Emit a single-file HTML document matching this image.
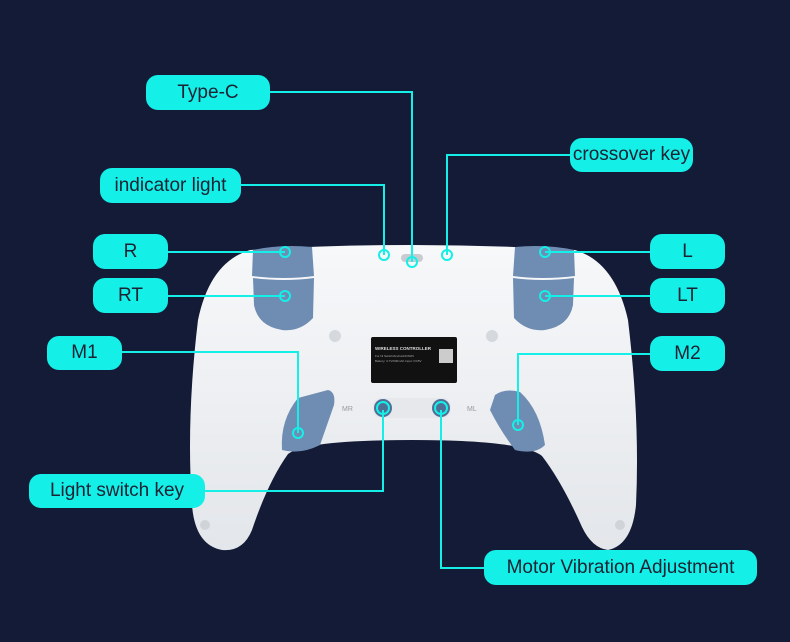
<!DOCTYPE html>
<html><head><meta charset="utf-8"><style>
html,body{margin:0;padding:0;background:#131b36;}
body{width:790px;height:642px;position:relative;overflow:hidden;font-family:"Liberation Sans",sans-serif;}
.l{position:absolute;background:#14efe8;border-radius:12px;color:#1b2233;font-size:19px;display:flex;align-items:center;justify-content:center;white-space:nowrap;}
svg{position:absolute;left:0;top:0;}
</style></head><body>
<svg width="790" height="642" viewBox="0 0 790 642">
<defs>
<linearGradient id="b" x1="0" y1="0" x2="0" y2="1"><stop offset="0" stop-color="#f7f8fa"/><stop offset="1" stop-color="#e3e6ea"/></linearGradient>
</defs>
<path d="M250 250 Q412 240 575 250 Q615 262 628 320 Q640 420 636 505 Q632 545 608 550 Q592 548 582 527 Q562 482 542 456 Q522 440 412 440 Q305 440 288 454 Q268 482 252 530 Q243 552 222 550 Q195 545 192 505 Q186 420 198 320 Q210 262 250 250 Z" fill="url(#b)"/>
<circle cx="335" cy="336" r="6" fill="#d5d8dc"/><circle cx="492" cy="336" r="6" fill="#d5d8dc"/>
<!-- shoulder buttons -->
<path d="M253 250 Q280 244 312 247 L314 276 Q285 280 252 276 Z" fill="#6f8db2"/>
<path d="M253 278 Q285 282 314 278 L313 318 Q300 332 282 330 Q258 326 254 305 Z" fill="#6f8db2"/>
<path d="M574 250 Q547 244 515 247 L513 276 Q542 280 575 276 Z" fill="#6f8db2"/>
<path d="M574 278 Q542 282 513 278 L514 318 Q527 332 545 330 Q569 326 573 305 Z" fill="#6f8db2"/>
<!-- back paddles -->
<path d="M298 398 L328 390 Q336 392 334 405 L320 445 Q300 455 282 450 Q280 420 298 398 Z" fill="#6f8db2"/>
<path d="M495 395 Q505 388 520 392 Q540 410 545 445 Q535 455 515 450 Q500 430 490 410 Z" fill="#6f8db2"/>
<!-- sticker -->
<rect x="371" y="337" width="86" height="46" rx="2" fill="#111"/>
<text x="375" y="350" font-size="4.5" fill="#ddd" font-family="Liberation Sans" font-weight="bold">WIRELESS CONTROLLER</text>
<text x="375" y="357" font-size="3" fill="#aaa">For Ni Switch/Android/iOS/Pc</text>
<text x="375" y="362" font-size="3" fill="#aaa">Battery: 3.7V/600mAh Input: DC5V</text>
<rect x="439" y="349" width="14" height="14" fill="#ccc"/>
<!-- small buttons -->
<rect x="373" y="398" width="78" height="20" rx="8" fill="#e6e8eb"/>
<circle cx="383" cy="408" r="9" fill="#4f6f95"/><circle cx="441" cy="408" r="9" fill="#4f6f95"/>
<rect x="401" y="254" width="22" height="8" rx="4" fill="#c8ccd1"/>
<text x="342" y="411" font-size="7" fill="#999">MR</text><text x="467" y="411" font-size="7" fill="#999">ML</text>
<circle cx="205" cy="525" r="5" fill="#d0d3d7"/><circle cx="620" cy="525" r="5" fill="#d0d3d7"/>
<g stroke="#14efe8" stroke-width="2" fill="none">
<polyline points="270,92 412,92 412,262"/>
<polyline points="241,185 384,185 384,255"/>
<polyline points="570,155 447,155 447,255"/>
<polyline points="168,252 285,252"/>
<polyline points="168,296 285,296"/>
<polyline points="650,252 545,252"/>
<polyline points="650,296 545,296"/>
<polyline points="122,352 298,352 298,433"/>
<polyline points="650,354 518,354 518,425"/>
<polyline points="205,491 383,491 383,410"/>
<polyline points="484,568 441,568 441,410"/>
<circle cx="412" cy="262" r="5"/><circle cx="384" cy="255" r="5"/><circle cx="447" cy="255" r="5"/>
<circle cx="285" cy="252" r="5"/><circle cx="285" cy="296" r="5"/><circle cx="545" cy="252" r="5"/><circle cx="545" cy="296" r="5"/>
<circle cx="298" cy="433" r="5"/><circle cx="518" cy="425" r="5"/><circle cx="383" cy="408" r="6"/><circle cx="441" cy="408" r="6"/>
</g>
</svg>
<div class="l" style="left:146px;top:75px;width:124px;height:35px;">Type-C</div>
<div class="l" style="left:100px;top:168px;width:141px;height:35px;">indicator light</div>
<div class="l" style="left:570px;top:138px;width:123px;height:34px;">crossover key</div>
<div class="l" style="left:93px;top:234px;width:75px;height:35px;">R</div>
<div class="l" style="left:93px;top:278px;width:75px;height:35px;">RT</div>
<div class="l" style="left:650px;top:234px;width:75px;height:35px;">L</div>
<div class="l" style="left:650px;top:278px;width:75px;height:35px;">LT</div>
<div class="l" style="left:47px;top:336px;width:75px;height:34px;">M1</div>
<div class="l" style="left:650px;top:336px;width:75px;height:35px;">M2</div>
<div class="l" style="left:29px;top:474px;width:176px;height:34px;">Light switch key</div>
<div class="l" style="left:484px;top:550px;width:273px;height:35px;">Motor Vibration Adjustment</div>
</body></html>
